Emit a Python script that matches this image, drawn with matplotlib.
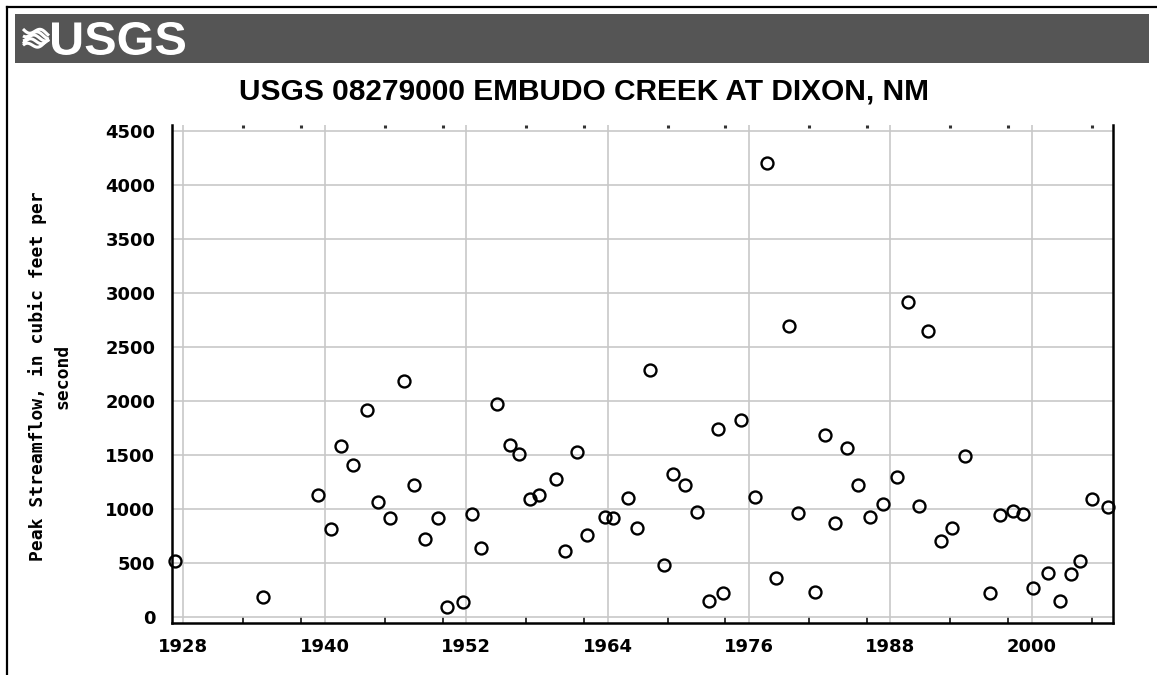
import matplotlib
matplotlib.use("Agg")
import matplotlib.pyplot as plt
from matplotlib.lines import Line2D
from matplotlib.patches import Rectangle, PathPatch
from matplotlib.textpath import TextPath
from matplotlib.font_manager import FontProperties
from matplotlib.transforms import Affine2D
import numpy as np

# ---- data ----
years = [1927.3, 1934.8, 1939.4, 1940.5, 1941.4, 1942.4, 1943.6, 1944.5, 1945.5,
         1946.7, 1947.6, 1948.5, 1949.6, 1950.4, 1951.7, 1952.5, 1953.3, 1954.6,
         1955.7, 1956.5, 1957.4, 1958.2, 1959.6, 1960.4, 1961.4, 1962.3, 1963.8,
         1964.5, 1965.7, 1966.5, 1967.6, 1968.8, 1969.6, 1970.6, 1971.6, 1972.6,
         1973.4, 1973.8, 1975.3, 1976.5, 1977.5, 1978.3, 1979.4, 1980.2, 1981.6,
         1982.5, 1983.3, 1984.3, 1985.3, 1986.3, 1987.4, 1988.6, 1989.5, 1990.4,
         1991.2, 1992.3, 1993.2, 1994.3, 1996.5, 1997.3, 1998.4, 1999.3, 2000.1,
         2001.4, 2002.4, 2003.3, 2004.1, 2005.1, 2006.5]
peaks = [521, 188, 1130, 812, 1580, 1407, 1914, 1062, 914,
         2188, 1219, 722, 914, 90, 136, 954, 636, 1975,
         1596, 1506, 1090, 1130, 1281, 611, 1525, 756, 929,
         914, 1105, 827, 2290, 481, 1321, 1222, 969, 151,
         1738, 219, 1824, 1114, 4200, 358, 2690, 966, 235,
         1685, 867, 1568, 1219, 929, 1043, 1299, 2915, 1031,
         2650, 707, 824, 1491, 219, 944, 984, 954, 266,
         410, 151, 395, 521, 1090, 1021]

x_major = [1928, 1940, 1952, 1964, 1976, 1988, 2000]
x_minor = [1933.1, 1938.0, 1945.1, 1950.0, 1957.1, 1962.0, 1969.1, 1974.0,
           1981.1, 1986.0, 1993.1, 1998.0, 2005.1]
y_major = [0, 500, 1000, 1500, 2000, 2500, 3000, 3500, 4000, 4500]

title = "USGS 08279000 EMBUDO CREEK AT DIXON, NM"
ylabel = "Peak Streamflow, in cubic feet per\nsecond"
logo_text = "USGS"

W, H = 1157, 675
fig = plt.figure(figsize=(W / 100, H / 100), dpi=100)
fig.patch.set_facecolor("white")

def fx(px):
    return px / W

def fy(py):
    return 1 - py / H

# outer frame (top and left lines)
fig.add_artist(Line2D([fx(7), fx(7)], [fy(7), 0], color="black", lw=1.6, transform=fig.transFigure))
fig.add_artist(Line2D([fx(7), 1], [fy(7), fy(7)], color="black", lw=1.6, transform=fig.transFigure))

# header bar
fig.add_artist(Rectangle((fx(15), fy(63)), fx(1149) - fx(15), fy(14) - fy(63),
                         facecolor="#555555", edgecolor="none", transform=fig.transFigure))

# logo wave emblem (decorative white strokes)
t = np.linspace(0, 1, 40)
for i, off in enumerate([-9, -4.5, 0, 4.5, 9]):
    xs = 23 + 26 * t
    ys = 38 + off * (1 - 0.55 * t) + 3.0 * np.sin(2 * np.pi * (t * 1.1 + 0.15 * i))
    fig.add_artist(Line2D(xs / W, 1 - ys / H, color="white", lw=2.2,
                          transform=fig.transFigure, solid_capstyle="butt"))

# logo text, condensed horizontally
fp = FontProperties(family="Liberation Sans", weight="bold")
tp = TextPath((0, 0), logo_text, size=46, prop=fp)
bb = tp.get_extents()
sx = (185 - 52) / bb.width
sy = (55 - 22) / bb.height
tr = Affine2D().translate(-bb.x0, -bb.y0).scale(sx, sy).translate(52, H - 55)
fig.add_artist(PathPatch(tp, facecolor="white", edgecolor="none", transform=tr))

# title
fig.text(fx(583.5), fy(92), title, fontsize=21.5, fontweight="bold", ha="center", va="center",
         family="Liberation Sans")

# axes
ax_left, ax_right, ax_top, ax_bot = 172, 1113, 125, 623
ax = fig.add_axes([fx(ax_left), fy(ax_bot), fx(ax_right) - fx(ax_left), fy(ax_top) - fy(ax_bot)])
ax.set_facecolor("white")

ax.plot(years, peaks, linestyle="none", marker="o", markersize=8.6,
        markerfacecolor="none", markeredgecolor="black", markeredgewidth=1.7,
        clip_on=False, zorder=5)

ax.set_xlim(1927.04, 2006.9)
ax.set_ylim(-55, 4553)

ax.set_xticks(x_major)
ax.set_xticks(x_minor, minor=True)
ax.set_yticks(y_major)
ax.set_xticklabels([str(v) for v in x_major])
ax.set_yticklabels([str(v) for v in y_major])

ax.grid(True, which="major", color="#c8c8c8", linewidth=1.2)
ax.set_axisbelow(True)

for lab in ax.get_xticklabels() + ax.get_yticklabels():
    lab.set_fontfamily("DejaVu Sans")
    lab.set_fontweight("bold")
    lab.set_fontsize(13)

ax.tick_params(axis="both", which="major", length=0)
ax.tick_params(axis="x", which="major", pad=11)
ax.tick_params(axis="y", which="major", pad=12)
ax.tick_params(axis="x", which="minor", direction="in", length=4, width=1.4,
               color="#333333", bottom=True, top=False)

# top dots at minor positions
sec = ax.secondary_xaxis("top")
sec.set_xticks([])
sec.set_xticks(x_minor, minor=True)
sec.tick_params(which="minor", direction="in", length=2, width=2.2, color="#333333")
sec.spines["top"].set_visible(False)

for s in ["left", "right", "bottom"]:
    ax.spines[s].set_color("black")
    ax.spines[s].set_linewidth(1.8)
ax.spines["top"].set_visible(False)

fig.text(fx(50), fy(376), ylabel, rotation=90, ha="center", va="center",
         family="DejaVu Sans Mono", fontweight="bold", fontsize=13, linespacing=1.45,
         multialignment="center")

fig.savefig("out.png", dpi=100, facecolor="white")
